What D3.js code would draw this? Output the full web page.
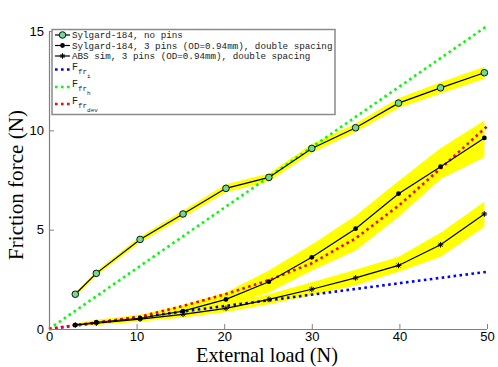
<!DOCTYPE html>
<html lang="en">
<head>
<meta charset="utf-8">
<title>Friction force vs external load</title>
<script src="https://d3js.org/d3.v7.min.js"></script>
<style>
  body { margin: 0; background: #fff; }
  svg { display: block; }
</style>
</head>
<body>
<div id="chart"></div>
<script>
var svgWidth = 498, svgHeight = 367;
var margin = {top: 31, right: 11, bottom: 38, left: 49};

// loads (N)
var loads = [3.0, 5.4, 10.4, 15.3, 20.2, 25.1, 30.0, 35.0, 39.9, 44.7, 49.7];

// Sylgard-184, no pins
var noPins     = [1.75, 2.80, 4.51, 5.79, 7.08, 7.63, 9.09, 10.13, 11.37, 12.14, 12.90];
var noPinsLo   = [1.65, 2.68, 4.36, 5.61, 6.88, 7.43, 8.87, 9.91, 11.12, 11.86, 12.60];
var noPinsHi   = [1.85, 2.92, 4.66, 5.97, 7.28, 7.83, 9.31, 10.35, 11.62, 12.42, 13.20];

// Sylgard-184, 3 pins
var pins       = [0.20, 0.34, 0.54, 0.90, 1.49, 2.38, 3.61, 5.05, 6.81, 8.17, 9.62];
var pinsLo     = [0.12, 0.22, 0.38, 0.65, 1.15, 1.85, 2.95, 3.95, 5.65, 7.55, 8.65];
var pinsHi     = [0.28, 0.46, 0.72, 1.20, 1.85, 2.95, 4.25, 5.70, 7.45, 9.10, 10.50];

// ABS sim, 3 pins
var abs        = [0.20, 0.29, 0.50, 0.74, 1.04, 1.49, 2.00, 2.57, 3.20, 4.24, 5.79];
var absLo      = [0.14, 0.20, 0.38, 0.58, 0.85, 1.25, 1.70, 2.20, 2.88, 3.64, 5.15];
var absHi      = [0.26, 0.38, 0.62, 0.90, 1.25, 1.75, 2.35, 2.98, 3.64, 4.85, 6.40];

// model curves
var modelX     = [0, 50];
var ffrI       = [0, 2.88];
var ffrH       = [0, 15.25];
var devX       = [0, 3, 5.4, 10.4, 15.3, 20.2, 25.1, 30, 35, 40, 45, 50];
var ffrDev     = [0, 0.2, 0.32, 0.62, 1.16, 1.76, 2.46, 3.31, 4.56, 6.24, 8.2, 10.2];

var xTicks = [0, 10, 20, 30, 40, 50];
var yTicks = [0, 5, 10, 15];

var svg = d3.select("#chart").append("svg")
  .attr("width", svgWidth)
  .attr("height", svgHeight);

var xScale = d3.scaleLinear().domain([0, 50]).range([margin.left, svgWidth - margin.right]);
var yScale = d3.scaleLinear().domain([0, 15]).range([svgHeight - margin.bottom, margin.top]);

function zipXY(xs, ys) { return xs.map((x, i) => [x, ys[i]]); }

// scale a text's font so its width matches the reference width
function fitWidth(sel, width) {
  var w = sel.node().getComputedTextLength();
  var fs = parseFloat(sel.style("font-size"));
  if (w > 0) sel.style("font-size", (fs * width / w) + "px");
}

// yellow bands
var area = d3.area()
  .x(d => xScale(d[0]))
  .y0(d => yScale(d[1]))
  .y1(d => yScale(d[2]));

[[noPinsLo, noPinsHi], [pinsLo, pinsHi], [absLo, absHi]].forEach(function(b) {
  svg.append("path")
    .datum(loads.map((x, i) => [x, b[0][i], b[1][i]]))
    .attr("d", area)
    .attr("fill", "#ffff00");
});

var line = d3.line().x(d => xScale(d[0])).y(d => yScale(d[1]));

// model dotted lines
var models = [
  {xs: modelX, ys: ffrI, color: "#0000ff"},
  {xs: modelX, ys: ffrH, color: "#00ff00"},
  {xs: devX, ys: ffrDev, color: "#ff0000"}
];
models.forEach(function(m) {
  svg.append("path")
    .datum(zipXY(m.xs, m.ys))
    .attr("d", line)
    .attr("fill", "none")
    .attr("stroke", m.color)
    .attr("stroke-width", 2.6)
    .attr("stroke-dasharray", "2.6,3.4");
});

// measured series
var series = [noPins, pins, abs];
series.forEach(function(s) {
  svg.append("path")
    .datum(zipXY(loads, s))
    .attr("d", line)
    .attr("fill", "none")
    .attr("stroke", "#000")
    .attr("stroke-width", 1.2);
});

function drawCircle(g, x, y) {
  g.append("circle").attr("cx", x).attr("cy", y).attr("r", 3.3)
    .attr("fill", "#6fdc96").attr("stroke", "#111").attr("stroke-width", 1);
}
function drawDot(g, x, y) {
  g.append("circle").attr("cx", x).attr("cy", y).attr("r", 2.4).attr("fill", "#000");
}
function drawStar(g, x, y) {
  var r = 2.8;
  g.append("path")
    .attr("d", `M${x - r},${y}H${x + r}M${x - r * 0.7},${y - r * 0.7}L${x + r * 0.7},${y + r * 0.7}M${x - r * 0.7},${y + r * 0.7}L${x + r * 0.7},${y - r * 0.7}M${x},${y - r}V${y + r}`)
    .attr("stroke", "#000").attr("stroke-width", 1).attr("fill", "none");
}

var markers = svg.append("g");
loads.forEach(function(x, i) {
  drawCircle(markers, xScale(x), yScale(noPins[i]));
  drawDot(markers, xScale(x), yScale(pins[i]));
  drawStar(markers, xScale(x), yScale(abs[i]));
});

// axes
var axisColor = "#808080";
var xAxis = d3.axisBottom(xScale).tickValues(xTicks).tickSize(-5).tickPadding(3);
var yAxis = d3.axisLeft(yScale).tickValues(yTicks).tickSize(-5).tickPadding(5);

var gx = svg.append("g")
  .attr("transform", `translate(0,${yScale(0)})`)
  .call(xAxis);
var gy = svg.append("g")
  .attr("transform", `translate(${xScale(0)},0)`)
  .call(yAxis);

[gx, gy].forEach(function(g) {
  g.select(".domain").attr("stroke", axisColor).attr("stroke-width", 1.2);
  g.selectAll(".tick line").attr("stroke", axisColor);
  g.selectAll(".tick text")
    .attr("fill", "#000")
    .style("font-family", "'Liberation Sans', Arial, sans-serif")
    .style("font-size", "13px");
});
gx.select(".domain").attr("d", `M${xScale(0)},0.5H${xScale(50)}`);
gy.select(".domain").attr("d", `M0.5,${yScale(0)}V${yScale(15)}`);

// axis titles
var xTitle = svg.append("text")
  .attr("x", 267)
  .attr("y", 361.5)
  .attr("text-anchor", "middle")
  .style("font-family", "'Liberation Serif', 'Times New Roman', serif")
  .style("font-size", "18px")
  .text("External load (N)");
fitWidth(xTitle, 142);

var yTitle = svg.append("text")
  .attr("transform", "translate(23,185) rotate(-90)")
  .attr("text-anchor", "middle")
  .style("font-family", "'Liberation Serif', 'Times New Roman', serif")
  .style("font-size", "18px")
  .text("Friction force (N)");
fitWidth(yTitle, 150);

// legend
var legend = svg.append("g");
legend.append("rect")
  .attr("x", 52).attr("y", 29.5)
  .attr("width", 283).attr("height", 85)
  .attr("fill", "#fff")
  .attr("stroke", "#8a8a8a")
  .attr("stroke-width", 1.5);

var monoFont = "'Liberation Mono', 'DejaVu Sans Mono', monospace";
var legendRows = [
  {y: 35, label: "Sylgard-184, no pins", marker: drawCircle},
  {y: 45.5, label: "Sylgard-184, 3 pins (OD=0.94mm), double spacing", marker: drawDot},
  {y: 56, label: "ABS sim, 3 pins (OD=0.94mm), double spacing", marker: drawStar}
];
legendRows.forEach(function(r) {
  legend.append("line")
    .attr("x1", 55).attr("x2", 70).attr("y1", r.y).attr("y2", r.y)
    .attr("stroke", "#000").attr("stroke-width", 1.2);
  r.marker(legend, 62.5, r.y);
  var t = legend.append("text")
    .attr("x", 72).attr("y", r.y + 3)
    .attr("fill", "#222")
    .style("font-family", monoFont)
    .style("font-size", "9.5px")
    .text(r.label);
  fitWidth(t, r.label.length * 5.55);
});

var legendModels = [
  {y: 69.5, sub: "i", color: "#0000ff"},
  {y: 87, sub: "h", color: "#00ff00"},
  {y: 104, sub: "dev", color: "#ff0000"}
];
legendModels.forEach(function(m) {
  legend.append("line")
    .attr("x1", 55).attr("x2", 70).attr("y1", m.y).attr("y2", m.y)
    .attr("stroke", m.color).attr("stroke-width", 2.6)
    .attr("stroke-dasharray", "2.6,3.4");
  var t = legend.append("text")
    .attr("x", 72).attr("y", m.y)
    .attr("fill", "#222")
    .style("font-family", monoFont)
    .style("font-size", "10px");
  t.append("tspan").text("F");
  t.append("tspan").attr("dy", 4).style("font-size", "7.5px").text("fr");
  t.append("tspan").attr("dy", 4).style("font-size", "6px").text(m.sub);
});
</script>
</body>
</html>
